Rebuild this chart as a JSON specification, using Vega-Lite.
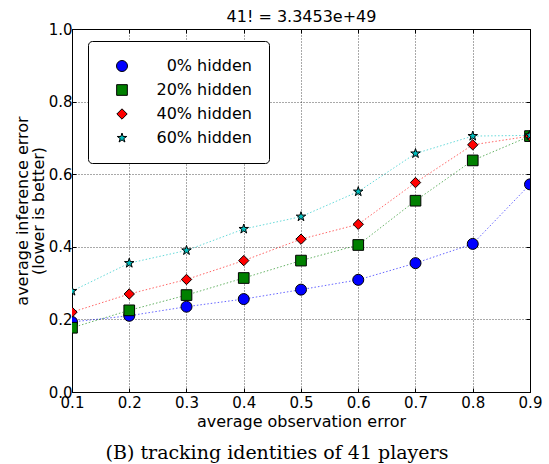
{
  "$schema": "https://vega.github.io/schema/vega-lite/v6.json",
  "width": 458,
  "height": 363,
  "autosize": {"type": "none"},
  "padding": {"left": 72, "top": 29, "right": 19, "bottom": 72},
  "background": "white",
  "title": {
    "text": "(B) tracking identities of 41 players",
    "orient": "bottom",
    "anchor": "middle",
    "font": "DejaVu Serif",
    "fontSize": 19,
    "fontWeight": "normal",
    "color": "black",
    "offset": 15,
    "dx": -24
  },
  "data": {
    "values": [
      {"x": 0.1, "y": 0.193, "s": "0% hidden"},
      {"x": 0.2, "y": 0.21, "s": "0% hidden"},
      {"x": 0.3, "y": 0.235, "s": "0% hidden"},
      {"x": 0.4, "y": 0.256, "s": "0% hidden"},
      {"x": 0.5, "y": 0.282, "s": "0% hidden"},
      {"x": 0.6, "y": 0.309, "s": "0% hidden"},
      {"x": 0.7, "y": 0.355, "s": "0% hidden"},
      {"x": 0.8, "y": 0.408, "s": "0% hidden"},
      {"x": 0.9, "y": 0.572, "s": "0% hidden"},
      {"x": 0.1, "y": 0.177, "s": "20% hidden"},
      {"x": 0.2, "y": 0.225, "s": "20% hidden"},
      {"x": 0.3, "y": 0.267, "s": "20% hidden"},
      {"x": 0.4, "y": 0.314, "s": "20% hidden"},
      {"x": 0.5, "y": 0.362, "s": "20% hidden"},
      {"x": 0.6, "y": 0.405, "s": "20% hidden"},
      {"x": 0.7, "y": 0.527, "s": "20% hidden"},
      {"x": 0.8, "y": 0.638, "s": "20% hidden"},
      {"x": 0.9, "y": 0.705, "s": "20% hidden"},
      {"x": 0.1, "y": 0.22, "s": "40% hidden"},
      {"x": 0.2, "y": 0.27, "s": "40% hidden"},
      {"x": 0.3, "y": 0.31, "s": "40% hidden"},
      {"x": 0.4, "y": 0.362, "s": "40% hidden"},
      {"x": 0.5, "y": 0.421, "s": "40% hidden"},
      {"x": 0.6, "y": 0.462, "s": "40% hidden"},
      {"x": 0.7, "y": 0.577, "s": "40% hidden"},
      {"x": 0.8, "y": 0.681, "s": "40% hidden"},
      {"x": 0.9, "y": 0.705, "s": "40% hidden"},
      {"x": 0.1, "y": 0.278, "s": "60% hidden"},
      {"x": 0.2, "y": 0.355, "s": "60% hidden"},
      {"x": 0.3, "y": 0.39, "s": "60% hidden"},
      {"x": 0.4, "y": 0.449, "s": "60% hidden"},
      {"x": 0.5, "y": 0.483, "s": "60% hidden"},
      {"x": 0.6, "y": 0.552, "s": "60% hidden"},
      {"x": 0.7, "y": 0.657, "s": "60% hidden"},
      {"x": 0.8, "y": 0.705, "s": "60% hidden"},
      {"x": 0.9, "y": 0.707, "s": "60% hidden"}
    ]
  },
  "layer": [
    {
      "mark": {"type": "line", "strokeDash": [1.5, 2], "strokeWidth": 1, "opacity": 0.6, "clip": true},
      "encoding": {
        "x": {
          "field": "x", "type": "quantitative",
          "scale": {"domain": [0.1, 0.9], "nice": false, "zero": false},
          "axis": {"orient": "bottom", "title": "average observation error", "format": ".1f", "values": [0.1,0.2,0.3,0.4,0.5,0.6,0.7,0.8,0.9], "grid": true, "labelPadding": 7, "titlePadding": 3}
        },
        "y": {
          "field": "y", "type": "quantitative",
          "scale": {"domain": [0, 1], "nice": false},
          "axis": {"orient": "left", "title": ["average inference error", "(lower is better)"], "titleLineHeight": 16, "format": ".1f", "values": [0,0.2,0.4,0.6,0.8,1.0], "grid": true, "labelPadding": 4, "titlePadding": 2}
        },
        "stroke": {
          "field": "s", "type": "nominal",
          "scale": {"domain": ["0% hidden", "20% hidden", "40% hidden", "60% hidden"], "range": ["#0000ff", "#008000", "#ff0000", "#00bfbf"]},
          "legend": null
        }
      }
    },
    {
      "mark": {"type": "point", "filled": true, "stroke": "black", "strokeWidth": 1, "opacity": 1, "clip": true},
      "encoding": {
        "x": {
          "field": "x", "type": "quantitative",
          "axis": {"orient": "top", "title": "41! = 3.3453e+49", "labels": false, "grid": false, "values": [0.1,0.2,0.3,0.4,0.5,0.6,0.7,0.8,0.9], "titlePadding": 4}
        },
        "y": {
          "field": "y", "type": "quantitative",
          "axis": {"orient": "right", "title": null, "labels": false, "grid": false, "values": [0,0.2,0.4,0.6,0.8,1.0]}
        },
        "color": {
          "field": "s", "type": "nominal",
          "scale": {"domain": ["0% hidden", "20% hidden", "40% hidden", "60% hidden"], "range": ["#0000ff", "#008000", "#ff0000", "#00bfbf"]},
          "legend": {
            "title": null,
            "orient": "none",
            "legendX": 16,
            "legendY": 12,
            "padding": 17,
            "strokeColor": "black",
            "fillColor": "white",
            "cornerRadius": 4,
            "rowPadding": 8,
            "symbolOffset": 9,
            "symbolStrokeColor": "black",
            "symbolStrokeWidth": 1,
            "labelAlign": "right",
            "labelOffset": 122,
            "labelFontSize": 16,
            "labelFont": "DejaVu Sans",
            "labelColor": "black",
            "labelLimit": 300
          }
        },
        "shape": {
          "field": "s", "type": "nominal",
          "scale": {"domain": ["0% hidden", "20% hidden", "40% hidden", "60% hidden"], "range": ["circle", "square", "diamond", "M0,-1L0.2245,-0.309L0.9511,-0.309L0.3633,0.118L0.5878,0.809L0,0.382L-0.5878,0.809L-0.3633,0.118L-0.9511,-0.309L-0.2245,-0.309Z"]},
          "legend": {
            "title": null,
            "orient": "none",
            "legendX": 16,
            "legendY": 12,
            "padding": 17,
            "strokeColor": "black",
            "fillColor": "white",
            "cornerRadius": 4,
            "rowPadding": 8,
            "symbolOffset": 9,
            "symbolStrokeColor": "black",
            "symbolStrokeWidth": 1,
            "labelAlign": "right",
            "labelOffset": 122,
            "labelFontSize": 16,
            "labelFont": "DejaVu Sans",
            "labelColor": "black",
            "labelLimit": 300
          }
        },
        "size": {
          "field": "s", "type": "nominal",
          "scale": {"domain": ["0% hidden", "20% hidden", "40% hidden", "60% hidden"], "range": [121, 100, 220, 150]},
          "legend": {
            "title": null,
            "orient": "none",
            "legendX": 16,
            "legendY": 12,
            "padding": 17,
            "strokeColor": "black",
            "fillColor": "white",
            "cornerRadius": 4,
            "rowPadding": 8,
            "symbolOffset": 9,
            "symbolStrokeColor": "black",
            "symbolStrokeWidth": 1,
            "labelAlign": "right",
            "labelOffset": 122,
            "labelFontSize": 16,
            "labelFont": "DejaVu Sans",
            "labelColor": "black",
            "labelLimit": 300
          }
        },
        "order": {"field": "s", "type": "nominal"}
      }
    }
  ],
  "resolve": {
    "axis": {"x": "independent", "y": "independent"},
    "legend": {"stroke": "independent"}
  },
  "config": {
    "font": "DejaVu Sans",
    "view": {"stroke": "black", "strokeWidth": 1},
    "axis": {
      "labelFont": "DejaVu Sans",
      "labelFontSize": 15,
      "labelColor": "black",
      "titleFont": "DejaVu Sans",
      "titleFontSize": 16,
      "titleFontWeight": "normal",
      "titleColor": "black",
      "domainColor": "black",
      "domainWidth": 1,
      "tickColor": "black",
      "tickSize": -4,
      "tickWidth": 1,
      "gridColor": "black",
      "gridDash": [1, 2],
      "gridOpacity": 0.85,
      "gridWidth": 0.8,
      "labelFlush": false,
      "labelOverlap": false
    }
  }
}
